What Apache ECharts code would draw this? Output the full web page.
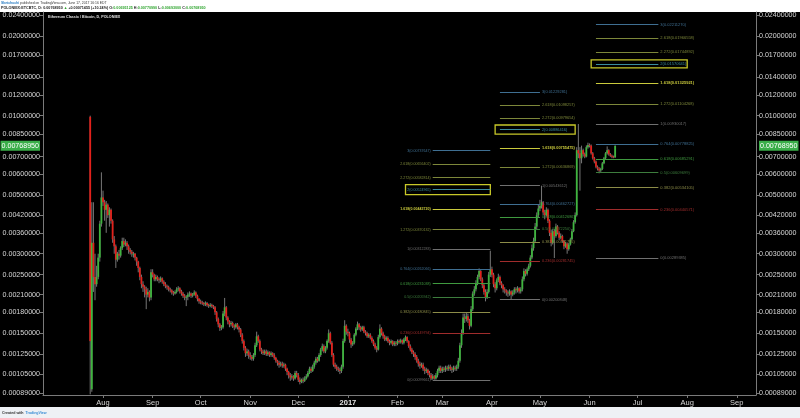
<!DOCTYPE html>
<html>
<head>
<meta charset="utf-8">
<script src="https://cdn.jsdelivr.net/npm/echarts@6.0.0/dist/echarts.min.js"></script>
<style>
html,body{margin:0;padding:0;background:#fff;}
#wrap{position:relative;width:800px;height:418px;overflow:hidden;}
.panel{position:absolute;left:0;top:12px;width:800px;height:395px;background:#000;}
.foot{position:absolute;left:0;top:407px;width:800px;height:11px;background:#eef1f5;}
#main{position:absolute;left:0;top:0;width:800px;height:418px;}
</style>
</head>
<body>
<div id="wrap"><div class="panel"></div><div class="foot"></div><div id="main"></div></div>
<script>
// daily candles POLONIEX:ETCBTC, first bar
var firstDay = '2016-07-24';
// prices in units of 0.00001 BTC, one line per month
var closes = [
  140, 330, 245, 230, 245, 290, 390, 490,
  470, 440, 460, 420, 440, 400, 340, 320, 285, 300, 295, 315, 335, 325, 330, 320, 310, 305, 300, 300, 290, 280, 265, 245, 230, 225, 220, 210, 215, 205, 255,
  250, 240, 245, 240, 238, 242, 235, 230, 226, 224, 220, 218, 214, 212, 215, 220, 222, 216, 212, 208, 205, 206, 210, 212, 208, 210, 214, 208, 202, 198,
  196, 195, 193, 195, 192, 190, 192, 190, 188, 180, 170, 162, 157, 158, 178, 188, 172, 166, 162, 164, 160, 158, 162, 158, 155, 148, 140, 132, 126, 128, 124,
  122, 120, 124, 135, 146, 140, 130, 128, 126, 128, 125, 127, 124, 126, 124, 121, 118, 116, 114, 115, 113, 114, 110, 107, 104, 102, 103, 101, 106, 104,
  100, 98, 100, 99, 101, 103, 106, 110, 108, 112, 116, 120, 118, 124, 130, 134, 128, 132, 140, 150, 138, 124, 114, 112, 110, 109, 108, 112, 140, 160, 152,
  150, 142, 136, 138, 148, 156, 162, 158, 155, 158, 152, 150, 146, 148, 144, 140, 136, 132, 130, 145, 156, 150, 146, 142, 144, 140, 138, 140, 136, 138, 137,
  140, 139, 141, 138, 142, 145, 140, 134, 130, 127, 125, 122, 118, 115, 113, 114, 110, 108, 109, 106, 104, 101, 103, 101, 104, 108, 111, 108,
  110, 109, 111, 110, 112, 110, 109, 111, 110, 112, 118, 135, 150, 172, 170, 174, 168, 160, 185, 212, 220, 232, 245, 258, 240, 228, 215, 205, 215, 250, 262,
  250, 230, 222, 238, 245, 232, 228, 220, 218, 214, 212, 216, 210, 214, 220, 218, 222, 216, 220, 240, 258, 252, 262, 270, 290, 315, 335, 380, 420, 445,
  455, 470, 430, 420, 440, 400, 360, 330, 365, 350, 380, 360, 345, 350, 335, 320, 328, 312, 325, 340, 365, 395, 420, 740, 720, 690, 740, 715, 700, 760, 775,
  770, 720, 690, 670, 640, 630, 620, 628, 660, 690, 720, 740, 715, 705, 700, 695.125, 768.95
];
var highs = [
  1000, 470, 470, 300, 270, 300, 400, 610,
  520, 480, 475, 465, 450, 445, 405, 350, 325, 305, 310, 320, 345, 345, 340, 335, 325, 315, 310, 305, 302, 292, 282, 268, 250, 236, 228, 225, 222, 218, 262,
  262, 252, 250, 248, 244, 246, 244, 238, 234, 229, 227, 223, 220, 217, 218, 224, 226, 224, 219, 215, 211, 209, 214, 216, 214, 213, 218, 216, 210, 204,
  201, 199, 197, 198, 197, 194, 195, 194, 192, 190, 182, 172, 164, 161, 182, 204, 190, 174, 168, 167, 166, 162, 164, 164, 160, 157, 150, 142, 134, 131, 130,
  127, 124, 126, 138, 152, 148, 142, 132, 130, 130, 130, 129, 128, 128, 127, 126, 122, 119, 118, 117, 117, 116, 115, 111, 108, 106, 105, 104, 108, 108,
  106, 102, 101, 102, 103, 105, 108, 112, 112, 114, 118, 122, 122, 126, 132, 137, 136, 134, 142, 155, 152, 140, 126, 116, 114, 112, 111, 114, 143, 168, 162,
  156, 152, 144, 140, 150, 158, 166, 164, 160, 160, 160, 154, 152, 150, 150, 146, 142, 138, 134, 148, 162, 158, 152, 148, 146, 146, 142, 142, 141, 140, 140,
  142, 142, 143, 142, 144, 147, 146, 141, 136, 132, 129, 127, 124, 120, 117, 116, 116, 112, 111, 110, 108, 106, 105, 104, 106, 110, 113, 113,
  112, 112, 113, 113, 114, 114, 112, 113, 113, 114, 121, 138, 155, 178, 178, 180, 178, 170, 190, 216, 226, 238, 250, 264, 260, 244, 232, 220, 220, 256, 308,
  268, 254, 234, 242, 252, 248, 236, 230, 224, 220, 218, 220, 218, 218, 224, 224, 226, 224, 224, 246, 264, 262, 266, 275, 296, 325, 345, 392, 430, 460,
  480, 543, 475, 440, 450, 445, 405, 370, 372, 372, 390, 385, 365, 358, 354, 338, 332, 330, 330, 345, 372, 402, 430, 760, 930, 760, 770, 750, 725, 772, 790,
  785, 778, 728, 698, 676, 648, 638, 635, 668, 698, 728, 765, 746, 722, 712, 706, 770.99
];
var lows = [
  88, 90, 215, 200, 225, 240, 280, 380,
  455, 400, 360, 410, 380, 390, 330, 300, 265, 280, 285, 290, 310, 318, 320, 310, 300, 298, 292, 290, 283, 270, 255, 238, 222, 215, 205, 185, 205, 198, 200,
  244, 236, 236, 236, 232, 234, 231, 226, 222, 219, 216, 214, 210, 208, 210, 212, 216, 212, 208, 204, 200, 190, 200, 206, 204, 205, 208, 204, 198, 194,
  193, 192, 190, 190, 189, 187, 188, 187, 185, 176, 166, 158, 153, 154, 156, 174, 168, 162, 158, 159, 157, 154, 156, 155, 151, 145, 137, 129, 122, 123, 120,
  119, 118, 118, 122, 133, 138, 128, 125, 124, 124, 123, 123, 122, 122, 122, 119, 116, 113, 111, 112, 111, 111, 108, 104, 101, 99, 100, 99, 100, 102,
  98, 96, 97, 97, 98, 100, 102, 105, 106, 107, 110, 114, 116, 117, 122, 128, 126, 126, 130, 138, 136, 122, 112, 110, 108, 107, 105, 106, 110, 138, 148,
  146, 138, 132, 134, 136, 146, 154, 154, 152, 153, 150, 147, 144, 144, 142, 138, 134, 130, 127, 129, 143, 147, 143, 140, 140, 138, 135, 136, 134, 134, 134,
  135, 137, 137, 136, 136, 140, 138, 132, 128, 125, 122, 119, 116, 112, 110, 111, 108, 105, 106, 104, 102, 99.7, 100, 100, 100, 102, 106, 106,
  106, 107, 107, 108, 108, 108, 106, 107, 108, 108, 110, 116, 132, 148, 164, 166, 164, 155, 158, 182, 208, 216, 228, 240, 236, 222, 210, 198, 202, 212, 245,
  244, 224, 214, 218, 234, 228, 222, 214, 212, 208, 206, 208, 201, 207, 210, 212, 214, 212, 212, 216, 236, 246, 248, 258, 266, 286, 308, 330, 372, 412,
  435, 445, 420, 405, 415, 392, 350, 320, 325, 289, 345, 355, 338, 340, 330, 312, 316, 300, 308, 322, 338, 362, 390, 415, 690, 520, 660, 700, 690, 695, 750,
  758, 712, 682, 660, 632, 620, 605, 612, 622, 655, 685, 712, 706, 698, 690, 690, 693
];
// bars whose open is not the previous close (listing day gap)
var openOverrides = {0: 990, 1: 92};

var lastPrice = 0.0076895;
var yTicks = [0.024, 0.020, 0.017, 0.014, 0.012, 0.010, 0.0085, 0.007, 0.006, 0.005, 0.0042, 0.0036, 0.003, 0.0025, 0.0021, 0.0018, 0.0015, 0.00125, 0.00105, 0.00089];
var xTickDates = ['2016-08-01', '2016-09-01', '2016-10-01', '2016-11-01', '2016-12-01', '2017-01-01', '2017-02-01', '2017-03-01', '2017-04-01', '2017-05-01', '2017-06-01', '2017-07-01', '2017-08-01', '2017-09-01'];
var xTickLabels = ['Aug', 'Sep', 'Oct', 'Nov', 'Dec', '2017', 'Feb', 'Mar', 'Apr', 'May', 'Jun', 'Jul', 'Aug', 'Sep'];

// fib extension levels, three drawings
var fibLevels = ['3', '2.618', '2.272', '2', '1.618', '1.272', '1', '0.764', '0.618', '0.5', '0.382', '0.236', '0'];
var fibPricesA = [0.00737647, 0.00656402, 0.00582814, 0.00524965, 0.00443720, 0.00370132, 0.00312283, 0.00262066, 0.00231038, 0.00205942, 0.00180845, 0.00149794, 0.00099661];
var fibPricesB = [0.01229281, 0.01098257, 0.00979654, 0.00886416, 0.00755475, 0.00636869, 0.00543612, 0.00462727, 0.00412686, 0.00372250, 0.00331795, 0.00281745, 0.00200848];
var fibPricesC = [0.02211270, 0.01966558, 0.01744892, 0.01570641, 0.01325921, 0.01104268, 0.00930017, 0.00778825, 0.00685291, 0.00609699, 0.00534105, 0.00440571, 0.00289385];

var fibColors = {
  '3': '#3f6f92', '2.618': '#7d873a', '2.272': '#7d873a', '2': '#3a8c9c', '1.618': '#caca3c',
  '1.272': '#7d873a', '1': '#707070', '0.764': '#3f6f92', '0.618': '#3f9a3f', '0.5': '#3d7d3d',
  '0.382': '#8c8c48', '0.236': '#a02c2c', '0': '#707070'
};

function day(s) {
  var p = s.split('-');
  return Date.UTC(+p[0], p[1] - 1, +p[2]);
}

var DAY = 86400000;
var t0 = day(firstDay);
var candles = [];
for (var i = 0; i < closes.length; i++) {
  var o = openOverrides[i] !== undefined ? openOverrides[i] : closes[i - 1];
  candles.push([t0 + i * DAY, o * 1e-5, closes[i] * 1e-5, lows[i] * 1e-5, highs[i] * 1e-5]);
}
var xTickTimes = xTickDates.map(day);

function fibLines(prices, from, to, side, fs) {
  return fibLevels.map(function (lv, k) {
    var col = fibColors[lv];
    return [
      {
        coord: [day(from), prices[k]],
        lineStyle: {color: col, width: 1, type: 'solid'},
        label: {
          show: true, position: side, distance: 2,
          formatter: lv + '(' + prices[k].toFixed(8) + ')',
          color: col, fontSize: fs, fontWeight: lv === '1.618' ? 'bold' : 'normal'
        }
      },
      {coord: [day(to), prices[k]]}
    ];
  });
}

function box(from, to, lo, hi) {
  return [
    {coord: [day(from), lo], itemStyle: {color: 'rgba(0,0,0,0)', borderColor: '#c8c828', borderWidth: 1.3}},
    {coord: [day(to), hi]}
  ];
}

function renderCandle(params, api) {
  var t = api.value(0);
  var o = api.coord([t, api.value(1)]);
  var c = api.coord([t, api.value(2)]);
  var l = api.coord([t, api.value(3)]);
  var h = api.coord([t, api.value(4)]);
  var up = api.value(2) >= api.value(1);
  var w = 1.8;
  var top = Math.min(o[1], c[1]);
  var bh = Math.max(Math.abs(o[1] - c[1]), 1);
  return {
    type: 'group',
    children: [
      {type: 'line', shape: {x1: h[0], y1: h[1], x2: l[0], y2: l[1]}, style: {stroke: '#777', lineWidth: 1}},
      {type: 'rect', shape: {x: o[0] - w / 2, y: top, width: w, height: bh}, style: {fill: up ? '#3fb53f' : '#e3211b'}}
    ]
  };
}

var font = "'Liberation Sans', Arial, sans-serif";

function yLabel(v) {
  if (Math.abs(v - lastPrice) < 1e-9) return '{cur|' + v.toFixed(8) + '}';
  return v.toFixed(8);
}

function xLabel(v) {
  for (var k = 0; k < xTickTimes.length; k++) {
    if (Math.abs(xTickTimes[k] - v) < 1000) {
      return /^\d{4}$/.test(xTickLabels[k]) ? '{y|' + xTickLabels[k] + '}' : xTickLabels[k];
    }
  }
  return '';
}

function yAxisDef(pos) {
  return {
    type: 'log', position: pos, min: 0.000875, max: 0.0247,
    axisLine: {show: true, lineStyle: {color: '#7a7a7a'}},
    axisTick: {show: true, customValues: yTicks, length: 3, lineStyle: {color: '#7a7a7a'}},
    axisLabel: {
      customValues: yTicks.concat([lastPrice]), formatter: yLabel, margin: 3,
      color: '#d6d6d6', fontSize: 7.1, fontFamily: font,
      rich: {cur: {backgroundColor: '#3aae49', color: '#fff', fontSize: 7.1, fontFamily: font, padding: [2, 1, 1, 1]}}
    },
    splitLine: {show: false}
  };
}

var chart = echarts.init(document.getElementById('main'));
chart.setOption({
  animation: false,
  backgroundColor: 'transparent',
  grid: {left: 43, right: 44, top: 12, bottom: 23, outerBoundsMode: 'none'},
  xAxis: {
    type: 'value', min: day('2016-06-24') + DAY / 2, max: day('2017-09-13'),
    axisLine: {lineStyle: {color: '#7a7a7a'}},
    axisTick: {show: true, customValues: xTickTimes, length: 3, lineStyle: {color: '#7a7a7a'}},
    axisLabel: {
      customValues: xTickTimes, margin: 4, color: '#d6d6d6', fontSize: 7.5, fontFamily: font,
      formatter: xLabel,
      rich: {y: {fontWeight: 'bold', color: '#e6e6e6', fontSize: 7.5, fontFamily: font}}
    },
    splitLine: {show: false}
  },
  yAxis: [yAxisDef('left'), yAxisDef('right')],
  graphic: [
    {type: 'text', x: 1, y: 3, style: {
      text: '{u|Sketchuchi} published on TradingView.com, June 17, 2017 16:16 EDT',
      fill: '#333', fontSize: 3.4, fontFamily: font, verticalAlign: 'middle',
      rich: {u: {fill: '#2d7fc4', fontSize: 3.4, fontWeight: 'bold'}}
    }},
    {type: 'text', x: 1, y: 8, style: {
      text: 'POLONIEX:ETCBTC, D: 0.00768950 {g|▲} +0.00071455 (+10.24%) O:{g|0.00695125} H:{g|0.00770990} L:{g|0.00693000} C:{g|0.00768950}',
      fill: '#222', fontSize: 3.7, fontWeight: 'bold', fontFamily: font, verticalAlign: 'middle',
      rich: {g: {fill: '#2fa52f', fontSize: 3.7, fontWeight: 'bold'}}
    }},
    {type: 'text', x: 48, y: 17, style: {
      text: 'Ethereum Classic / Bitcoin, D, POLONIEX',
      fill: '#e0e0e0', fontSize: 3.7, fontWeight: 'bold', fontFamily: font, verticalAlign: 'middle'
    }},
    {type: 'text', x: 2, y: 413, style: {
      text: 'Created with  {b|TradingView}',
      fill: '#333', fontSize: 3.6, fontWeight: 'bold', fontFamily: font, verticalAlign: 'middle',
      rich: {b: {fill: '#3b8fd6', fontSize: 3.6, fontWeight: 'bold'}}
    }}
  ],
  series: [{
    type: 'custom',
    name: 'ETCBTC',
    renderItem: renderCandle,
    encode: {x: 0, y: [1, 2, 3, 4]},
    data: candles,
    clip: true,
    markLine: {
      silent: true, symbol: ['none', 'none'],
      data: []
        .concat(fibLines(fibPricesA, '2017-02-23', '2017-03-31', 'start', 3.6))
        .concat(fibLines(fibPricesB, '2017-04-06', '2017-05-01', 'end', 3.9))
        .concat(fibLines(fibPricesC, '2017-06-05', '2017-07-14', 'end', 4))
    },
    markArea: {
      silent: true,
      data: [
        box('2017-02-06', '2017-03-31', 0.00502, 0.00548),
        box('2017-04-03', '2017-05-23', 0.00851, 0.00922),
        box('2017-06-02', '2017-08-01', 0.01517, 0.01626)
      ]
    }
  }]
});
</script>
</body>
</html>
